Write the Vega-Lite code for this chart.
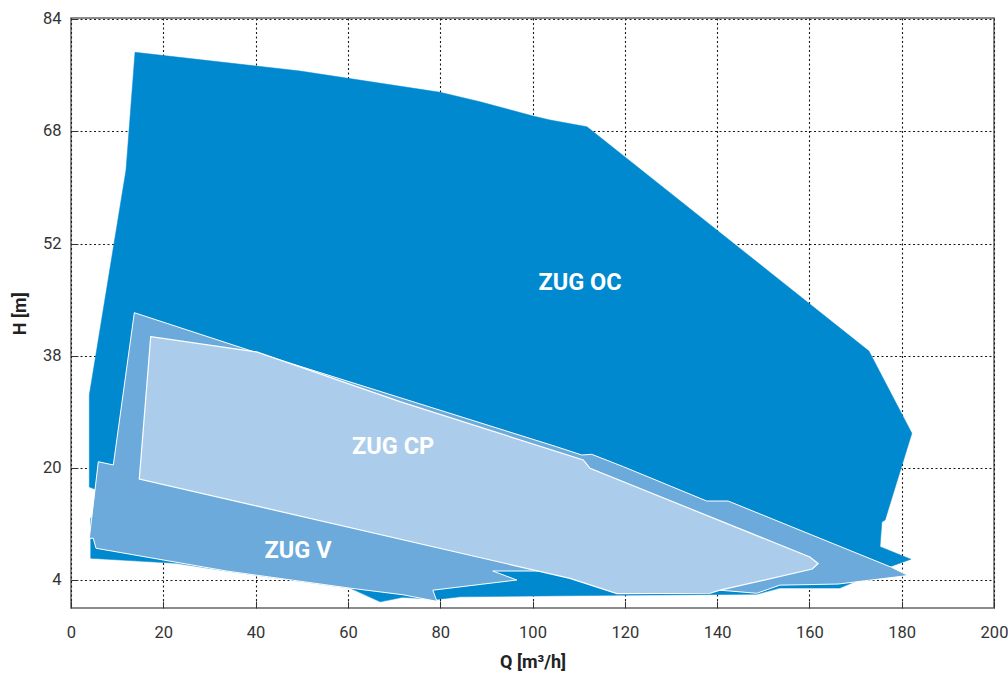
{
  "$schema": "https://vega.github.io/schema/vega-lite/v6.json",
  "width": 923,
  "height": 590,
  "autosize": {"type": "none"},
  "padding": {"left": 71, "top": 18, "right": 14, "bottom": 72},
  "background": "white",
  "config": {
    "view": {"stroke": "#666", "strokeWidth": 1.5},
    "axis": {
      "grid": true,
      "zindex": 1,
      "domain": false,
      "labelFlush": false,
      "labelOverlap": false,
      "gridDash": [2, 2.5],
      "gridColor": "#1a1a1a",
      "gridOpacity": 1,
      "gridWidth": 1.1,
      "tickSize": -7,
      "tickColor": "#333",
      "labelFont": "Roboto",
      "labelFontSize": 16.5,
      "labelColor": "#333",
      "titleFont": "Roboto",
      "titleFontSize": 18,
      "titleFontWeight": "bold",
      "titleColor": "#222"
    }
  },
  "datasets": {
    "shapes": [
      {"shape": "OC", "i": 1, "q": 13.87, "h": 79.17},
      {"shape": "OC", "i": 2, "q": 49.62, "h": 76.5},
      {"shape": "OC", "i": 3, "q": 79.96, "h": 73.46},
      {"shape": "OC", "i": 4, "q": 88.62, "h": 72.11},
      {"shape": "OC", "i": 5, "q": 100.1, "h": 70.07},
      {"shape": "OC", "i": 6, "q": 103.8, "h": 69.5},
      {"shape": "OC", "i": 7, "q": 111.8, "h": 68.54},
      {"shape": "OC", "i": 8, "q": 172.9, "h": 38.56},
      {"shape": "OC", "i": 9, "q": 182.2, "h": 25.5},
      {"shape": "OC", "i": 10, "q": 176.4, "h": 12.5},
      {"shape": "OC", "i": 11, "q": 175.7, "h": 12.21},
      {"shape": "OC", "i": 12, "q": 175.3, "h": 8.69},
      {"shape": "OC", "i": 13, "q": 182.0, "h": 6.89},
      {"shape": "OC", "i": 14, "q": 177.9, "h": 5.93},
      {"shape": "OC", "i": 15, "q": 166.6, "h": 2.79},
      {"shape": "OC", "i": 16, "q": 153.6, "h": 2.79},
      {"shape": "OC", "i": 17, "q": 148.6, "h": 1.93},
      {"shape": "OC", "i": 18, "q": 118.3, "h": 1.79},
      {"shape": "OC", "i": 19, "q": 84.3, "h": 1.57},
      {"shape": "OC", "i": 20, "q": 79.3, "h": 1.21},
      {"shape": "OC", "i": 21, "q": 71.9, "h": 1.5},
      {"shape": "OC", "i": 22, "q": 67.0, "h": 0.86},
      {"shape": "OC", "i": 23, "q": 60.45, "h": 2.79},
      {"shape": "OC", "i": 24, "q": 33.7, "h": 5.21},
      {"shape": "OC", "i": 25, "q": 22.9, "h": 6.31},
      {"shape": "OC", "i": 26, "q": 4.27, "h": 7.03},
      {"shape": "OC", "i": 27, "q": 4.27, "h": 12.79},
      {"shape": "OC", "i": 28, "q": 5.42, "h": 13.07},
      {"shape": "OC", "i": 29, "q": 5.63, "h": 16.79},
      {"shape": "OC", "i": 30, "q": 3.97, "h": 17.21},
      {"shape": "OC", "i": 31, "q": 3.97, "h": 31.65},
      {"shape": "OC", "i": 32, "q": 11.92, "h": 62.41},
      {"shape": "V", "i": 1, "q": 13.72, "h": 43.35},
      {"shape": "V", "i": 2, "q": 40.24, "h": 38.35},
      {"shape": "V", "i": 3, "q": 105.2, "h": 23.34},
      {"shape": "V", "i": 4, "q": 110.66, "h": 22.01},
      {"shape": "V", "i": 5, "q": 112.83, "h": 22.12},
      {"shape": "V", "i": 6, "q": 119.7, "h": 20.13},
      {"shape": "V", "i": 7, "q": 137.75, "h": 15.21},
      {"shape": "V", "i": 8, "q": 142.4, "h": 15.21},
      {"shape": "V", "i": 9, "q": 177.8, "h": 5.74},
      {"shape": "V", "i": 10, "q": 181.4, "h": 4.57},
      {"shape": "V", "i": 11, "q": 166.2, "h": 3.36},
      {"shape": "V", "i": 12, "q": 153.6, "h": 3.21},
      {"shape": "V", "i": 13, "q": 148.6, "h": 2.07},
      {"shape": "V", "i": 14, "q": 140.6, "h": 2.5},
      {"shape": "V", "i": 15, "q": 104.9, "h": 5.21},
      {"shape": "V", "i": 16, "q": 91.4, "h": 5.21},
      {"shape": "V", "i": 17, "q": 96.6, "h": 3.93},
      {"shape": "V", "i": 18, "q": 78.4, "h": 2.5},
      {"shape": "V", "i": 19, "q": 79.3, "h": 0.93},
      {"shape": "V", "i": 20, "q": 71.9, "h": 1.86},
      {"shape": "V", "i": 21, "q": 60.45, "h": 2.79},
      {"shape": "V", "i": 22, "q": 33.74, "h": 5.21},
      {"shape": "V", "i": 23, "q": 5.42, "h": 8.46},
      {"shape": "V", "i": 24, "q": 4.83, "h": 9.89},
      {"shape": "V", "i": 25, "q": 3.97, "h": 9.89},
      {"shape": "V", "i": 26, "q": 5.92, "h": 20.93},
      {"shape": "V", "i": 27, "q": 9.17, "h": 20.4},
      {"shape": "CP", "i": 1, "q": 17.27, "h": 40.35},
      {"shape": "CP", "i": 2, "q": 40.24, "h": 38.45},
      {"shape": "CP", "i": 3, "q": 71.29, "h": 30.58},
      {"shape": "CP", "i": 4, "q": 111.0, "h": 21.21},
      {"shape": "CP", "i": 5, "q": 112.46, "h": 19.89},
      {"shape": "CP", "i": 6, "q": 160.1, "h": 7.21},
      {"shape": "CP", "i": 7, "q": 161.9, "h": 6.29},
      {"shape": "CP", "i": 8, "q": 160.6, "h": 5.5},
      {"shape": "CP", "i": 9, "q": 140.6, "h": 2.5},
      {"shape": "CP", "i": 10, "q": 138.5, "h": 2.07},
      {"shape": "CP", "i": 11, "q": 118.3, "h": 2.03},
      {"shape": "CP", "i": 12, "q": 108.1, "h": 4.17},
      {"shape": "CP", "i": 13, "q": 14.8, "h": 18.36}
    ],
    "labels": [
      {"label": "ZUG OC", "q": 110.3, "h": 47.1},
      {"label": "ZUG CP", "q": 69.8, "h": 23.3},
      {"label": "ZUG V", "q": 49.2, "h": 8.1}
    ]
  },
  "encoding": {
    "x": {
      "field": "q",
      "type": "quantitative",
      "scale": {"domain": [0, 200], "nice": false, "zero": false},
      "axis": {
        "title": "Q [m³/h]",
        "values": [0, 20, 40, 60, 80, 100, 120, 140, 160, 180, 200],
        "labelPadding": 23,
        "titlePadding": 13
      }
    },
    "y": {
      "field": "h",
      "type": "quantitative",
      "scale": {
        "type": "linear",
        "domain": [0, 4, 20, 38, 52, 68, 84],
        "range": [590, 561.5, 449.5, 337.5, 225.5, 112.5, 0.5],
        "nice": false,
        "zero": false
      },
      "axis": {
        "title": "H [m]",
        "values": [4, 20, 38, 52, 68, 84],
        "labelPadding": 17,
        "titlePadding": 13
      }
    }
  },
  "layer": [
    {
      "data": {"name": "shapes"},
      "transform": [{"filter": "datum.shape === 'OC'"}],
      "mark": {"type": "line", "interpolate": "linear-closed", "fill": "#0089CF", "stroke": "#0089CF", "strokeWidth": 0.5},
      "encoding": {"order": {"field": "i", "type": "quantitative"}}
    },
    {
      "data": {"name": "shapes"},
      "transform": [{"filter": "datum.shape === 'V'"}],
      "mark": {"type": "line", "interpolate": "linear-closed", "fill": "#6BAADB", "stroke": "white", "strokeWidth": 1},
      "encoding": {"order": {"field": "i", "type": "quantitative"}}
    },
    {
      "data": {"name": "shapes"},
      "transform": [{"filter": "datum.shape === 'CP'"}],
      "mark": {"type": "line", "interpolate": "linear-closed", "fill": "#ABCDEB", "stroke": "white", "strokeWidth": 1.2},
      "encoding": {"order": {"field": "i", "type": "quantitative"}}
    },
    {
      "data": {"name": "labels"},
      "mark": {"type": "text", "font": "Roboto", "fontSize": 23.5, "fontWeight": "bold", "color": "white", "align": "center", "baseline": "middle"},
      "encoding": {"text": {"field": "label", "type": "nominal"}}
    }
  ]
}
